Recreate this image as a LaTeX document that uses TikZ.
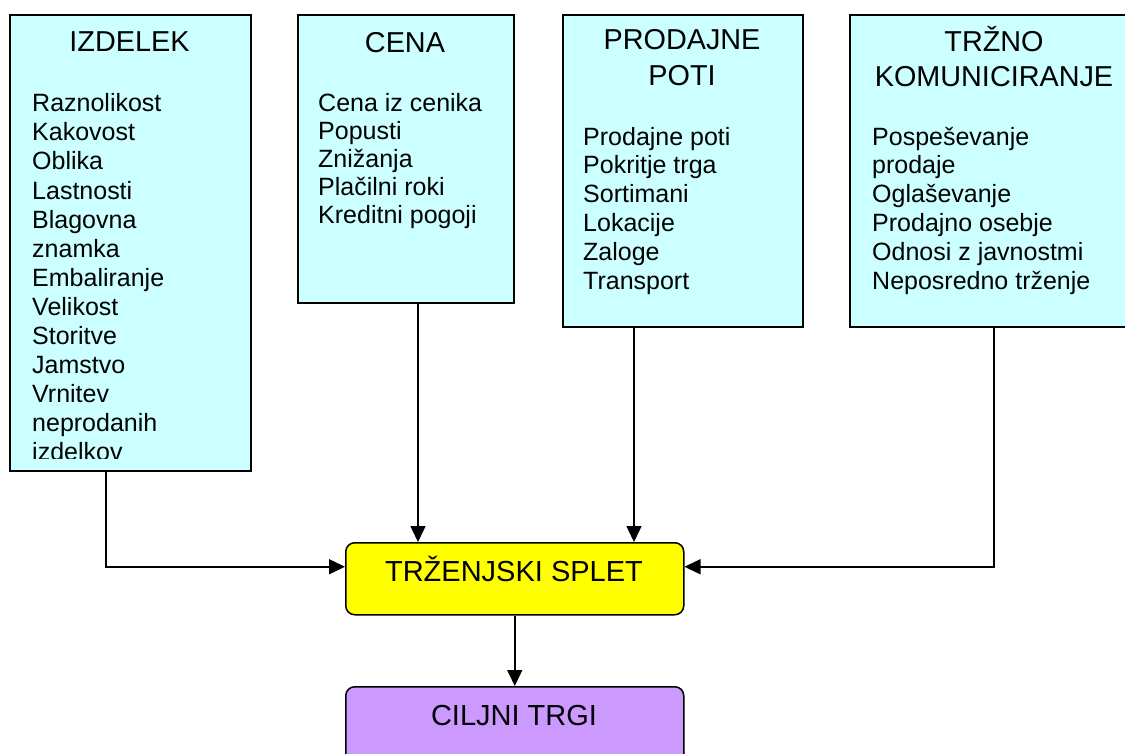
\documentclass[tikz,border=0pt]{standalone}
\usepackage{fontspec}
\setmainfont{Liberation Sans}
\usetikzlibrary{arrows.meta}
\definecolor{boxcyan}{HTML}{CCFFFF}
\definecolor{boxyellow}{HTML}{FFFF00}
\definecolor{boxviolet}{HTML}{CC99FF}
\tikzset{
  mixbox/.style={draw=black, line width=1.5pt, fill=boxcyan, anchor=north west, inner sep=0pt},
  roundbox/.style={draw=black, line width=1.5pt, rounded corners=9pt, anchor=north west, inner sep=0pt},
  headtxt/.style={anchor=base, inner sep=0pt, font=\fontsize{28.8}{34}\selectfont},
  itemtxt/.style={anchor=base west, inner sep=0pt, font=\fontsize{25}{29}\selectfont},
  bigtxt/.style={anchor=base, inner sep=0pt, font=\fontsize{29}{34}\selectfont},
  link/.style={line width=1.5pt, -{Triangle[length=16pt, width=15pt]}}
}
\begin{document}
\begin{tikzpicture}[x=1pt, y=-1pt]
\useasboundingbox (0,0) rectangle (1125,753);
\clip (0,0) rectangle (1125,753);

% four marketing-mix boxes
\node[mixbox, minimum width=241pt, minimum height=456pt] (izd) at (9,14) {};
\node[mixbox, minimum width=216pt, minimum height=288pt] (cena) at (297,14) {};
\node[mixbox, minimum width=240pt, minimum height=312pt] (pp) at (562,14) {};
\node[mixbox, minimum width=290pt, minimum height=312pt] (tk) at (849,14) {};

% central boxes
\node[roundbox, fill=boxyellow, minimum width=338pt, minimum height=72pt] (ts) at (345,542) {};
\node[roundbox, fill=boxviolet, minimum width=338pt, minimum height=80pt] (ct) at (345,686) {};

% headings
\node[headtxt] (izdh) at (129.5,51.7) {IZDELEK};
\node[headtxt] (cenah) at (405,52.7) {CENA};
\node[headtxt] (pph1) at (682,49.3) {PRODAJNE};
\node[headtxt] (pph2) at (682,85) {POTI};
\node[headtxt] (tkh1) at (994,51.7) {TRŽNO};
\node[headtxt] (tkh2) at (994,86) {KOMUNICIRANJE};

% item lists
\begin{scope}
\clip (9,14) rectangle (250,458);
\foreach \t [count=\i from 0] in {Raznolikost, Kakovost, Oblika, Lastnosti,
  Blagovna, znamka, Embaliranje, Velikost, Storitve, Jamstvo, Vrnitev,
  neprodanih, izdelkov}
  \node[itemtxt] (izd-\i) at (32,111.7+\i*29.1) {\t};
\end{scope}
\foreach \t [count=\i from 0] in {Cena iz cenika, Popusti, Znižanja,
  Plačilni roki, Kreditni pogoji}
  \node[itemtxt] (cena-\i) at (318,111.7+\i*27.9) {\t};
\foreach \t [count=\i from 0] in {Prodajne poti, Pokritje trga, Sortimani,
  Lokacije, Zaloge, Transport}
  \node[itemtxt] (pp-\i) at (583,145+\i*28.9) {\t};
\foreach \t [count=\i from 0] in {Pospeševanje, prodaje, Oglaševanje,
  Prodajno osebje, Odnosi z javnostmi, Neposredno trženje}
  \node[itemtxt] (tk-\i) at (872,145+\i*28.9) {\t};

\node[bigtxt] (tst) at (514,581.7) {TRŽENJSKI SPLET};
\node[bigtxt] (ctt) at (514,725) {CILJNI TRGI};

% connectors
\coordinate (izdout) at ([xshift=97pt]izd.south west);
\coordinate (cenaout) at ([xshift=121pt]cena.south west);
\coordinate (ppout) at ([xshift=72pt]pp.south west);
\coordinate (tkout) at ([xshift=145pt]tk.south west);
\coordinate (tsleft) at ([yshift=12pt]ts.west);
\coordinate (tsright) at ([yshift=12pt]ts.east);

\draw[link] (izdout) |- (tsleft);
\draw[link] (tkout) |- (tsright);
\draw[link] (cenaout) -- (cenaout |- ts.north);
\draw[link] (ppout) -- (ppout |- ts.north);
\draw[link] (ts.south) -- (ct.north);
\end{tikzpicture}
\end{document}
